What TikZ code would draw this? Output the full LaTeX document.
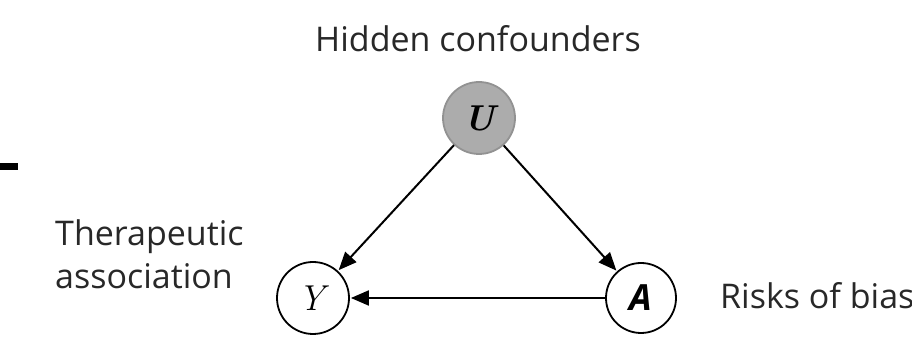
\documentclass[tikz,border=0pt]{standalone}
\usepackage{fontspec}
\setmainfont{Open Sans}
\newfontfamily\lmroman{Latin Modern Roman}
\usetikzlibrary{arrows.meta}
\definecolor{confgray}{RGB}{172,172,172}
\definecolor{txtgray}{RGB}{40,40,40}
\tikzset{
  var/.style={circle, draw=black, line width=1.8pt, minimum size=72pt, inner sep=0pt, fill=white},
  hidden/.style={var, fill=confgray, draw=confgray!85!black},
  edge/.style={line width=2pt, -{Triangle[length=18pt,width=15pt]}, shorten >=1pt},
  lbl/.style={font=\fontsize{34}{43}\selectfont, text=txtgray, inner sep=0pt},
  mathlbl/.style={font=\fontsize{36}{40}\selectfont}
}
\begin{document}
\begin{tikzpicture}[x=1pt,y=1pt]
  \useasboundingbox (0,0) rectangle (912,339);
  % stray dash on the left margin
  \fill (0,169) rectangle (18,176);
  % variables
  \node[hidden, mathlbl] (U) at (479,221) {\lmroman\bfseries\itshape U};
  \node[var, mathlbl] (Y) at (313,41) {\lmroman\itshape Y\kern2pt};
  \node[var, mathlbl, minimum size=70pt] (A) at (641,41) {\bfseries\itshape A};
  % labels
  \node[lbl, anchor=base] (tU) at (478,287) {Hidden confounders};
  \node[lbl, anchor=base west] (tA) at (720,30) {Risks of bias};
  \node[lbl, anchor=base west, align=left] (tY) at (55,50) {Therapeutic\\association};
  % causal edges
  \draw[edge] (U) -- (Y);
  \draw[edge] (U) -- (A);
  \draw[edge] (A) -- (Y);
\end{tikzpicture}
\end{document}
